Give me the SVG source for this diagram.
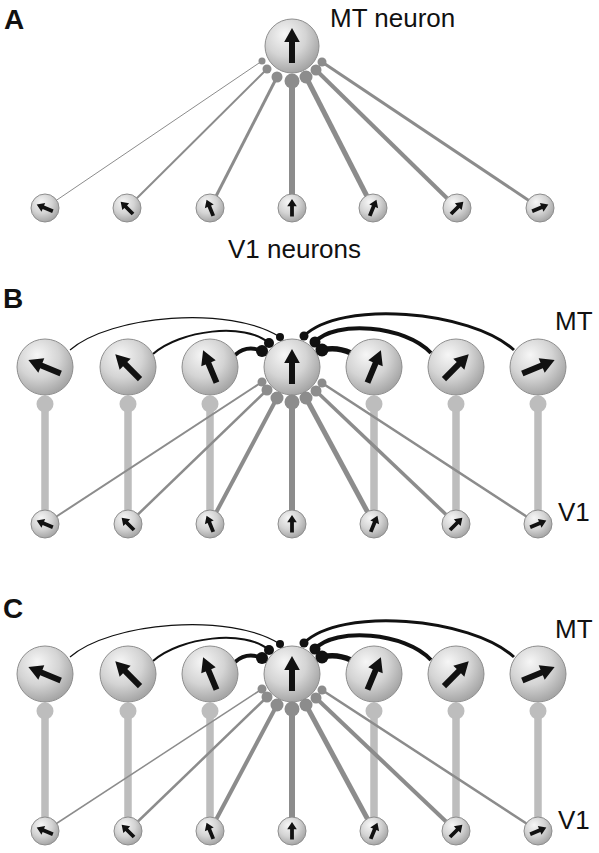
<svg xmlns="http://www.w3.org/2000/svg" xmlns:xlink="http://www.w3.org/1999/xlink" width="599" height="853" viewBox="0 0 599 853">
<defs>
<radialGradient id="sph" cx="0.4" cy="0.35" r="0.68" fx="0.36" fy="0.28">
<stop offset="0" stop-color="#f6f6f6"/>
<stop offset="0.55" stop-color="#d4d4d4"/>
<stop offset="1" stop-color="#a2a2a2"/>
</radialGradient>
<path id="bigArrow" d="M-3,17 L3,17 L3,-4 L7.8,-4 L0,-18 L-7.8,-4 L-3,-4 Z"/>
<path id="smallArrow" d="M-1.9,8.5 L1.9,8.5 L1.9,-1.8 L4.8,-1.8 L0,-9 L-4.8,-1.8 L-1.9,-1.8 Z"/>
</defs>
<style>
.big{fill:url(#sph);stroke:#8e8e8e;stroke-width:1}
.small{fill:url(#sph);stroke:#8e8e8e;stroke-width:1}
.arr{fill:#111}
.ff{stroke:#8c8c8c;fill:none;stroke-linecap:butt}
.term{fill:#8c8c8c}
.stem{stroke:#bdbdbd;stroke-width:7.5;fill:none}
.bulb{fill:#bdbdbd}
.lat{stroke:#111;fill:none}
.dot{fill:#111}
.lbl{font-family:"Liberation Sans",Arial,sans-serif;font-size:26px;fill:#111}
.plbl{font-family:"Liberation Sans",Arial,sans-serif;font-size:28px;font-weight:bold;fill:#111}
</style>
<rect width="599" height="853" fill="#fff"/>

<!-- ========== Panel A ========== -->
<text class="plbl" x="4" y="29">A</text>
<text class="lbl" x="330" y="27">MT neuron</text>
<text class="lbl" x="228" y="258">V1 neurons</text>
<g id="A-connectors">
<line class="ff" x1="45" y1="208" x2="262" y2="61" stroke-width="1"/>
<line class="ff" x1="127" y1="208" x2="267" y2="69" stroke-width="2"/>
<line class="ff" x1="210" y1="208" x2="277" y2="77" stroke-width="3"/>
<line class="ff" x1="292" y1="208" x2="292" y2="82" stroke-width="6"/>
<line class="ff" x1="373" y1="208" x2="306" y2="77" stroke-width="5"/>
<line class="ff" x1="457" y1="208" x2="316" y2="70" stroke-width="4"/>
<line class="ff" x1="540" y1="208" x2="322" y2="62" stroke-width="3"/>
</g>
<g id="A-V1-1"><circle class="small" cx="45" cy="208" r="14"/><use href="#smallArrow" class="arr" transform="translate(45,208) rotate(-67.5)"/></g>
<g id="A-V1-2"><circle class="small" cx="127" cy="208" r="14"/><use href="#smallArrow" class="arr" transform="translate(127,208) rotate(-45)"/></g>
<g id="A-V1-3"><circle class="small" cx="210" cy="208" r="14"/><use href="#smallArrow" class="arr" transform="translate(210,208) rotate(-22.5)"/></g>
<g id="A-V1-4"><circle class="small" cx="292" cy="208" r="14"/><use href="#smallArrow" class="arr" transform="translate(292,208)"/></g>
<g id="A-V1-5"><circle class="small" cx="373" cy="208" r="14"/><use href="#smallArrow" class="arr" transform="translate(373,208) rotate(22.5)"/></g>
<g id="A-V1-6"><circle class="small" cx="457" cy="208" r="14"/><use href="#smallArrow" class="arr" transform="translate(457,208) rotate(45)"/></g>
<g id="A-V1-7"><circle class="small" cx="540" cy="208" r="14"/><use href="#smallArrow" class="arr" transform="translate(540,208) rotate(67.5)"/></g>
<g id="A-MT">
<circle class="big" cx="292" cy="46" r="27"/>
<use href="#bigArrow" class="arr" transform="translate(292,46)"/>
<circle class="term" cx="262" cy="61" r="3.5"/>
<circle class="term" cx="267" cy="69" r="4.5"/>
<circle class="term" cx="277" cy="77" r="5.5"/>
<circle class="term" cx="292" cy="81" r="7.5"/>
<circle class="term" cx="306" cy="77" r="6.5"/>
<circle class="term" cx="316" cy="70" r="5.5"/>
<circle class="term" cx="322" cy="62" r="4.5"/>
</g>

<!-- ========== Panel B ========== -->
<text class="plbl" x="3" y="308">B</text>
<text class="lbl" x="555" y="330">MT</text>
<text class="lbl" x="558" y="521">V1</text>
<g id="B-connectors">
<line class="stem" x1="45" y1="404" x2="45" y2="524"/><circle class="bulb" cx="45" cy="404" r="8.5"/>
<line class="stem" x1="128" y1="404" x2="128" y2="524"/><circle class="bulb" cx="128" cy="404" r="8.5"/>
<line class="stem" x1="210" y1="404" x2="210" y2="524"/><circle class="bulb" cx="210" cy="404" r="8.5"/>
<line class="stem" x1="374" y1="404" x2="374" y2="524"/><circle class="bulb" cx="374" cy="404" r="8.5"/>
<line class="stem" x1="456" y1="404" x2="456" y2="524"/><circle class="bulb" cx="456" cy="404" r="8.5"/>
<line class="stem" x1="538" y1="404" x2="538" y2="524"/><circle class="bulb" cx="538" cy="404" r="8.5"/>
<line class="ff" x1="45" y1="524" x2="262" y2="382" stroke-width="2"/>
<line class="ff" x1="128" y1="524" x2="267" y2="390" stroke-width="2.5"/>
<line class="ff" x1="210" y1="524" x2="277" y2="398" stroke-width="4"/>
<line class="ff" x1="292" y1="524" x2="292" y2="403" stroke-width="6" stroke="#858585"/>
<line class="ff" x1="374" y1="524" x2="306" y2="398" stroke-width="5"/>
<line class="ff" x1="456" y1="524" x2="316" y2="391" stroke-width="3.5"/>
<line class="ff" x1="538" y1="524" x2="322" y2="383" stroke-width="2.5"/>
<path class="lat" d="M70,350 C110,315 230,305 280,337" stroke-width="1.2"/>
<path class="lat" d="M153,354 C180,330 245,322 269,343" stroke-width="2"/>
<path class="lat" d="M235,355 C245,346 255,348 262,351" stroke-width="4"/>
<path class="lat" d="M351,353 C340,348 330,348 322,350" stroke-width="5.5"/>
<path class="lat" d="M431,353 C405,325 335,320 315,342" stroke-width="4"/>
<path class="lat" d="M514,350 C470,310 340,300 304,336" stroke-width="3"/>
</g>
<g id="B-V1-1"><circle class="small" cx="45" cy="524" r="14"/><use href="#smallArrow" class="arr" transform="translate(45,524) rotate(-67.5)"/></g>
<g id="B-V1-2"><circle class="small" cx="128" cy="524" r="14"/><use href="#smallArrow" class="arr" transform="translate(128,524) rotate(-45)"/></g>
<g id="B-V1-3"><circle class="small" cx="210" cy="524" r="14"/><use href="#smallArrow" class="arr" transform="translate(210,524) rotate(-22.5)"/></g>
<g id="B-V1-4"><circle class="small" cx="292" cy="524" r="14"/><use href="#smallArrow" class="arr" transform="translate(292,524)"/></g>
<g id="B-V1-5"><circle class="small" cx="374" cy="524" r="14"/><use href="#smallArrow" class="arr" transform="translate(374,524) rotate(22.5)"/></g>
<g id="B-V1-6"><circle class="small" cx="456" cy="524" r="14"/><use href="#smallArrow" class="arr" transform="translate(456,524) rotate(45)"/></g>
<g id="B-V1-7"><circle class="small" cx="538" cy="524" r="14"/><use href="#smallArrow" class="arr" transform="translate(538,524) rotate(67.5)"/></g>
<g id="B-MT-1"><circle class="big" cx="45" cy="367" r="28"/><use href="#bigArrow" class="arr" transform="translate(45,367) rotate(-67.5)"/></g>
<g id="B-MT-2"><circle class="big" cx="128" cy="367" r="28"/><use href="#bigArrow" class="arr" transform="translate(128,367) rotate(-45)"/></g>
<g id="B-MT-3"><circle class="big" cx="210" cy="367" r="28"/><use href="#bigArrow" class="arr" transform="translate(210,367) rotate(-22.5)"/></g>
<g id="B-MT-5"><circle class="big" cx="374" cy="367" r="28"/><use href="#bigArrow" class="arr" transform="translate(374,367) rotate(22.5)"/></g>
<g id="B-MT-6"><circle class="big" cx="456" cy="367" r="28"/><use href="#bigArrow" class="arr" transform="translate(456,367) rotate(45)"/></g>
<g id="B-MT-7"><circle class="big" cx="538" cy="367" r="28"/><use href="#bigArrow" class="arr" transform="translate(538,367) rotate(67.5)"/></g>
<g id="B-MT-4">
<circle class="big" cx="292" cy="367" r="28"/>
<use href="#bigArrow" class="arr" transform="translate(292,367)"/>
<circle class="term" cx="262" cy="382" r="4.5"/>
<circle class="term" cx="267" cy="390" r="5.5"/>
<circle class="term" cx="277" cy="398" r="6.5"/>
<circle class="term" cx="292" cy="402" r="7.5"/>
<circle class="term" cx="306" cy="398" r="6.5"/>
<circle class="term" cx="316" cy="391" r="5.5"/>
<circle class="term" cx="322" cy="383" r="4.5"/>
<circle class="dot" cx="280" cy="337" r="4"/>
<circle class="dot" cx="269" cy="343" r="5"/>
<circle class="dot" cx="262" cy="351" r="6"/>
<circle class="dot" cx="304" cy="336" r="4.5"/>
<circle class="dot" cx="315" cy="342" r="5.5"/>
<circle class="dot" cx="322" cy="350" r="6.5"/>
</g>

<!-- ========== Panel C ========== -->
<text class="plbl" x="3" y="618">C</text>
<text class="lbl" x="555" y="638">MT</text>
<text class="lbl" x="558" y="829">V1</text>
<g id="C-connectors">
<line class="stem" x1="45" y1="711" x2="45" y2="831"/><circle class="bulb" cx="45" cy="711" r="8.5"/>
<line class="stem" x1="128" y1="711" x2="128" y2="831"/><circle class="bulb" cx="128" cy="711" r="8.5"/>
<line class="stem" x1="210" y1="711" x2="210" y2="831"/><circle class="bulb" cx="210" cy="711" r="8.5"/>
<line class="stem" x1="374" y1="711" x2="374" y2="831"/><circle class="bulb" cx="374" cy="711" r="8.5"/>
<line class="stem" x1="456" y1="711" x2="456" y2="831"/><circle class="bulb" cx="456" cy="711" r="8.5"/>
<line class="stem" x1="538" y1="711" x2="538" y2="831"/><circle class="bulb" cx="538" cy="711" r="8.5"/>
<line class="ff" x1="45" y1="831" x2="262" y2="689" stroke-width="1.5"/>
<line class="ff" x1="128" y1="831" x2="267" y2="697" stroke-width="2.5"/>
<line class="ff" x1="210" y1="831" x2="277" y2="705" stroke-width="4"/>
<line class="ff" x1="292" y1="831" x2="292" y2="710" stroke-width="6" stroke="#858585"/>
<line class="ff" x1="374" y1="831" x2="306" y2="705" stroke-width="5"/>
<line class="ff" x1="456" y1="831" x2="316" y2="698" stroke-width="4"/>
<line class="ff" x1="538" y1="831" x2="322" y2="690" stroke-width="2.5"/>
<path class="lat" d="M70,657 C110,622 230,612 280,644" stroke-width="1.2"/>
<path class="lat" d="M153,661 C180,637 245,629 269,650" stroke-width="2"/>
<path class="lat" d="M235,662 C245,653 255,655 262,658" stroke-width="4"/>
<path class="lat" d="M351,660 C340,655 330,655 322,657" stroke-width="5.5"/>
<path class="lat" d="M431,660 C405,632 335,627 315,649" stroke-width="4"/>
<path class="lat" d="M514,657 C470,617 340,607 304,643" stroke-width="3"/>
</g>
<g id="C-V1-1"><circle class="small" cx="45" cy="831" r="14"/><use href="#smallArrow" class="arr" transform="translate(45,831) rotate(-67.5)"/></g>
<g id="C-V1-2"><circle class="small" cx="128" cy="831" r="14"/><use href="#smallArrow" class="arr" transform="translate(128,831) rotate(-45)"/></g>
<g id="C-V1-3"><circle class="small" cx="210" cy="831" r="14"/><use href="#smallArrow" class="arr" transform="translate(210,831) rotate(-22.5)"/></g>
<g id="C-V1-4"><circle class="small" cx="292" cy="831" r="14"/><use href="#smallArrow" class="arr" transform="translate(292,831)"/></g>
<g id="C-V1-5"><circle class="small" cx="374" cy="831" r="14"/><use href="#smallArrow" class="arr" transform="translate(374,831) rotate(22.5)"/></g>
<g id="C-V1-6"><circle class="small" cx="456" cy="831" r="14"/><use href="#smallArrow" class="arr" transform="translate(456,831) rotate(45)"/></g>
<g id="C-V1-7"><circle class="small" cx="538" cy="831" r="14"/><use href="#smallArrow" class="arr" transform="translate(538,831) rotate(67.5)"/></g>
<g id="C-MT-1"><circle class="big" cx="45" cy="674" r="28"/><use href="#bigArrow" class="arr" transform="translate(45,674) rotate(-67.5)"/></g>
<g id="C-MT-2"><circle class="big" cx="128" cy="674" r="28"/><use href="#bigArrow" class="arr" transform="translate(128,674) rotate(-45)"/></g>
<g id="C-MT-3"><circle class="big" cx="210" cy="674" r="28"/><use href="#bigArrow" class="arr" transform="translate(210,674) rotate(-22.5)"/></g>
<g id="C-MT-5"><circle class="big" cx="374" cy="674" r="28"/><use href="#bigArrow" class="arr" transform="translate(374,674) rotate(22.5)"/></g>
<g id="C-MT-6"><circle class="big" cx="456" cy="674" r="28"/><use href="#bigArrow" class="arr" transform="translate(456,674) rotate(45)"/></g>
<g id="C-MT-7"><circle class="big" cx="538" cy="674" r="28"/><use href="#bigArrow" class="arr" transform="translate(538,674) rotate(67.5)"/></g>
<g id="C-MT-4">
<circle class="big" cx="292" cy="674" r="28"/>
<use href="#bigArrow" class="arr" transform="translate(292,674)"/>
<circle class="term" cx="262" cy="689" r="4.5"/>
<circle class="term" cx="267" cy="697" r="5.5"/>
<circle class="term" cx="277" cy="705" r="6.5"/>
<circle class="term" cx="292" cy="709" r="7.5"/>
<circle class="term" cx="306" cy="705" r="6.5"/>
<circle class="term" cx="316" cy="698" r="5.5"/>
<circle class="term" cx="322" cy="690" r="4.5"/>
<circle class="dot" cx="280" cy="644" r="4"/>
<circle class="dot" cx="269" cy="650" r="5"/>
<circle class="dot" cx="262" cy="658" r="6"/>
<circle class="dot" cx="304" cy="643" r="4.5"/>
<circle class="dot" cx="315" cy="649" r="5.5"/>
<circle class="dot" cx="322" cy="657" r="6.5"/>
</g>
</svg>
